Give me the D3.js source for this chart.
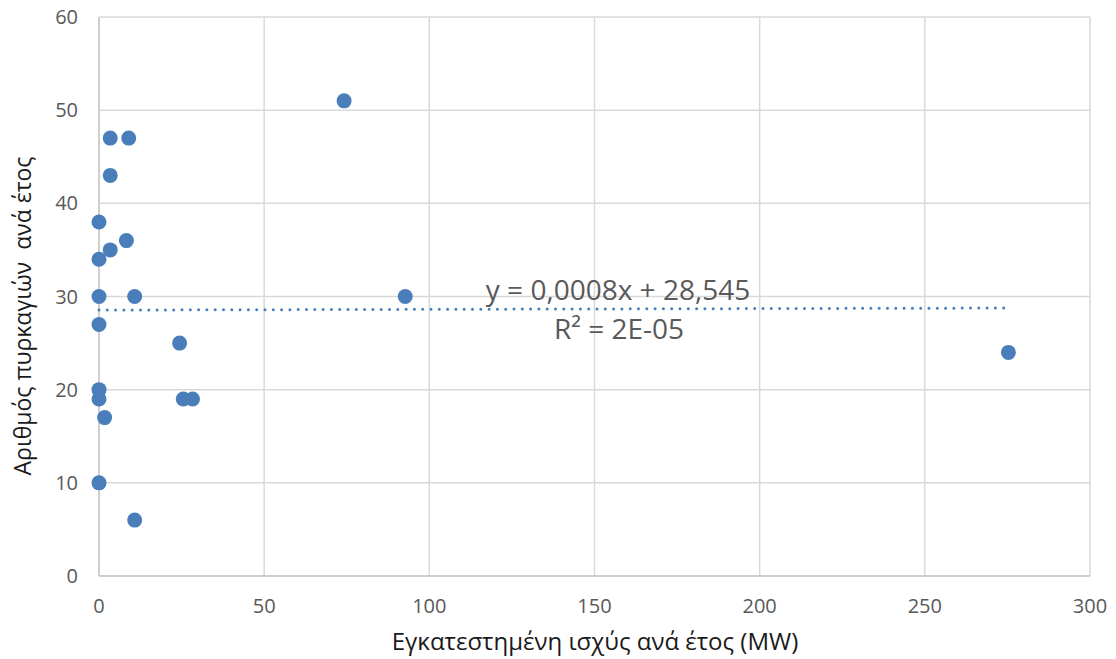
<!DOCTYPE html>
<html>
<head>
<meta charset="utf-8">
<script src="https://cdn.jsdelivr.net/npm/d3@7"></script>
<style>
  body { margin: 0; background: #fff; }
  text { font-family: "Open Sans", "Noto Sans", sans-serif; fill: #595959; }
  .title { fill: #1a1a1a; white-space: pre; }
</style>
</head>
<body>
<div id="chart"></div>
<script>
// Data
const powerMW = [74.2, 92.7, 275.3, 3.4, 9.0, 3.4, 0, 8.3, 3.4, 0, 0, 10.8, 0, 24.4, 0, 0, 25.5, 28.3, 1.7, 0, 10.8];
const fires   = [51,   30,   24,    47,  47,  43,  38, 36,  35,  34, 30, 30,  27, 25,   20, 19, 19,   19,   17,  10, 6];
const xTicks = [0, 50, 100, 150, 200, 250, 300];
const yTicks = [0, 10, 20, 30, 40, 50, 60];
const slope = 0.0008, intercept = 28.545;
const eqLabel = "y = 0,0008x + 28,545";
const r2Label = "R² = 2E-05";
const xTitle = "Εγκατεστημένη ισχύς ανά έτος (MW)";
const yTitle = "Αριθμός πυρκαγιών  ανά έτος";

const W = 1116, H = 659;
const margin = {top: 17, right: 26, bottom: 83, left: 99};
const width = W - margin.left - margin.right,
      height = H - margin.top - margin.bottom;

const svg = d3.select("#chart").append("svg")
    .attr("width", W)
    .attr("height", H);
const g = svg.append("g")
    .attr("transform", `translate(${margin.left},${margin.top})`);

const x = d3.scaleLinear().domain([0, 300]).range([0, width]);
const y = d3.scaleLinear().domain([0, 60]).range([height, 0]);

// gridlines
g.selectAll(".vgrid").data(xTicks).enter().append("line")
    .attr("x1", d => x(d)).attr("x2", d => x(d))
    .attr("y1", 0).attr("y2", height)
    .attr("stroke", d => d === 0 ? "#bfbfbf" : "#d9d9d9")
    .attr("stroke-width", 1.5);
g.selectAll(".hgrid").data(yTicks).enter().append("line")
    .attr("x1", 0).attr("x2", width)
    .attr("y1", d => y(d)).attr("y2", d => y(d))
    .attr("stroke", d => d === 0 ? "#bfbfbf" : "#d9d9d9")
    .attr("stroke-width", 1.5);

// tick labels
g.selectAll(".xlab").data(xTicks).enter().append("text")
    .attr("x", d => x(d)).attr("y", height + 37)
    .attr("text-anchor", "middle")
    .style("font-size", "20px")
    .text(d => d);
g.selectAll(".ylab").data(yTicks).enter().append("text")
    .attr("x", -21).attr("y", d => y(d) + 7)
    .attr("text-anchor", "end")
    .style("font-size", "20px")
    .text(d => d);

// trendline
const xMax = d3.max(powerMW);
g.append("line")
    .attr("x1", x(0)).attr("y1", y(intercept))
    .attr("x2", x(xMax)).attr("y2", y(intercept + slope * xMax))
    .attr("stroke", "#4a7ebb")
    .attr("stroke-width", 3)
    .attr("stroke-linecap", "round")
    .attr("stroke-dasharray", "0,8.3");

// points
g.selectAll("circle")
    .data(powerMW.map((p, i) => ({p, f: fires[i]})))
  .enter().append("circle")
    .attr("cx", d => x(d.p))
    .attr("cy", d => y(d.f))
    .attr("r", 7.5)
    .attr("fill", "#4a7ebb");

// equation
g.append("text")
    .attr("x", 618 - margin.left).attr("y", 300 - margin.top)
    .attr("text-anchor", "middle")
    .style("font-size", "28px")
    .text(eqLabel);
g.append("text")
    .attr("x", 619 - margin.left).attr("y", 339 - margin.top)
    .attr("text-anchor", "middle")
    .style("font-size", "28px")
    .text(r2Label);

// axis titles
svg.append("text")
    .attr("class", "title")
    .attr("x", 595).attr("y", 650)
    .attr("text-anchor", "middle")
    .style("font-size", "24px")
    .text(xTitle);
svg.append("text")
    .attr("class", "title")
    .attr("transform", "translate(31,316) rotate(-90)")
    .attr("text-anchor", "middle")
    .style("font-size", "23px")
    .text(yTitle);
</script>
</body>
</html>
